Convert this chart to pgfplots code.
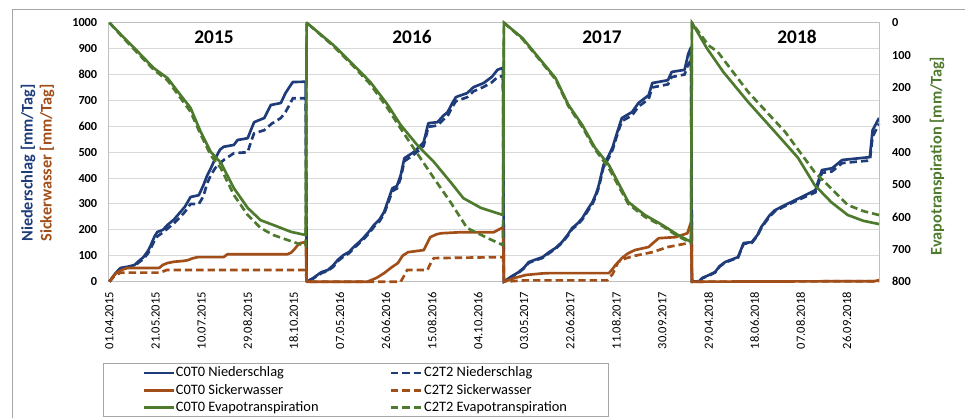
\documentclass[border=0pt]{standalone}
\usepackage{fontspec}
\setmainfont{Carlito}
\usepackage{pgfplots}
\pgfplotsset{compat=1.18}
\definecolor{nblue}{HTML}{1F3C7A}
\definecolor{sbrown}{HTML}{A24E18}
\definecolor{egreen}{HTML}{4E7A2E}
\definecolor{framegray}{HTML}{A6A6A6}
\definecolor{axisgray}{HTML}{BFBFBF}
\definecolor{gridgray}{HTML}{D9D9D9}
\begin{document}
\begin{tikzpicture}
\useasboundingbox (0,0) rectangle (723.75pt,313.5pt);
\draw[color=framegray, line width=0.75pt] (9pt,0pt) -- (9pt,306pt) -- (723.75pt,306pt);
\begin{axis}[
  at={(81.375pt,102.225pt)}, anchor=south west,
  scale only axis, width=578.6pt, height=194.25pt,
  xmin=-1, xmax=836, ymin=0, ymax=1000,
  clip=false,
  axis line style={draw=axisgray, line width=0.75pt},
  ymajorgrids, grid style={draw=gridgray, line width=0.75pt},
  major tick length=0pt,
  ytick={0,100,...,1000},
  xtick={0,50,...,800},
  xticklabels={01.04.2015,21.05.2015,10.07.2015,29.08.2015,18.10.2015,07.05.2016,26.06.2016,15.08.2016,04.10.2016,03.05.2017,22.06.2017,11.08.2017,30.09.2017,29.04.2018,18.06.2018,07.08.2018,26.09.2018},
  xticklabel style={rotate=90, anchor=east, inner sep=0pt, font=\fontsize{9.4}{10}\selectfont},
  xticklabel shift=7.5pt,
  yticklabel style={anchor=east, inner sep=0pt, font=\bfseries\fontsize{9.2}{10}\selectfont},
  yticklabel shift=8.3pt,
  /pgf/number format/assume math mode=true,
  /pgf/number format/1000 sep={},
]
% C0T0 Niederschlag
\addplot[nblue, line width=2pt, line join=round] coordinates {
(0,0) (6,30) (12,53) (20,58) (27,64) (32,80) (37,95) (42,120) (45,142) (49,175) (52,192) (58,200) (63,219) (70,240) (77,269) (82,290) (88,327) (97,334) (102,373) (106,410) (110,438) (115,477) (120,510) (124,521) (135,528) (139,547) (150,554) (154,590) (157,616) (168,632) (172,660) (175,682) (186,690) (191,728) (195,750) (199,771) (213,772)
(214,0) (221,14) (230,37) (237,45) (243,64) (248,85) (254,103) (260,115) (265,134) (270,150) (276,171) (282,195) (287,219) (293,240) (298,269) (303,320) (307,361) (312,370) (316,411) (320,477) (330,500) (336,520) (341,539) (346,612) (356,616) (362,640) (367,655) (372,690) (376,713) (388,728) (395,751) (406,767) (415,791) (421,818) (427,826)
(428,0) (436,20) (444,37) (450,55) (455,76) (462,85) (470,95) (477,114) (484,130) (491,153) (497,180) (502,207) (508,225) (513,245) (519,280) (524,307) (528,340) (531,373) (536,450) (542,489) (546,520) (549,555) (553,600) (556,632) (567,655) (574,690) (585,720) (589,767) (606,778) (610,810) (624,818) (628,880) (631,905)
(632,0) (640,2) (643,14) (650,25) (657,37) (662,60) (668,76) (682,95) (688,149) (697,153) (703,180) (707,210) (711,230) (716,255) (722,276) (733,296) (744,315) (755,334) (766,354) (773,431) (784,438) (795,470) (825,481) (828,585) (835,632)
};
% C2T2 Niederschlag
\addplot[nblue, line width=2pt, dash pattern=on 5.5pt off 3pt] coordinates {
(0,0) (6,28) (12,50) (20,55) (27,60) (32,75) (37,88) (42,110) (45,130) (49,160) (52,175) (58,190) (63,205) (70,225) (77,250) (82,270) (88,300) (97,300) (102,330) (106,380) (110,411) (115,440) (124,470) (135,496) (150,500) (154,545) (157,573) (168,585) (176,610) (186,632) (191,655) (195,680) (199,708) (213,708)
(214,0) (221,12) (230,33) (237,42) (243,58) (248,80) (254,97) (260,110) (265,128) (270,145) (276,165) (282,188) (287,212) (293,233) (298,262) (303,310) (307,350) (312,360) (316,400) (320,465) (330,490) (336,508) (341,525) (346,598) (356,603) (362,625) (367,640) (372,675) (376,697) (388,712) (395,735) (406,752) (415,770) (421,790) (427,795)
(428,0) (436,18) (444,35) (450,52) (455,73) (462,82) (470,92) (477,110) (484,127) (491,150) (497,176) (502,203) (508,220) (513,240) (519,273) (524,300) (528,332) (531,365) (536,442) (542,480) (546,510) (549,545) (553,590) (556,620) (567,642) (574,676) (585,705) (589,750) (606,762) (610,790) (624,800) (628,840) (631,855)
(632,0) (640,2) (643,13) (650,23) (657,35) (662,58) (668,74) (682,93) (688,146) (697,150) (703,177) (707,205) (711,226) (716,250) (722,272) (733,292) (744,310) (755,328) (766,345) (773,420) (784,426) (795,458) (825,468) (828,560) (835,610)
};
% C0T0 Sickerwasser
\addplot[sbrown, line width=2pt, line join=round] coordinates {
(0,0) (5,25) (9,37) (15,48) (20,53) (54,53) (58,65) (63,72) (70,77) (80,80) (85,83) (90,90) (96,95) (124,95) (128,106) (193,106) (197,112) (200,122) (204,140) (207,149) (213,153)
(214,0) (280,0) (290,15) (298,33) (306,55) (313,72) (318,100) (324,114) (341,122) (345,150) (348,172) (355,183) (360,187) (381,191) (417,191) (427,210)
(428,0) (440,15) (452,26) (470,32) (477,33) (542,33) (546,50) (549,64) (556,91) (562,108) (570,122) (585,134) (590,150) (596,168) (614,172) (627,187) (631,230)
(632,0) (830,2) (835,6)
};
% C2T2 Sickerwasser
\addplot[sbrown, line width=2pt, dash pattern=on 5.5pt off 3pt] coordinates {
(0,0) (5,20) (12,35) (55,35) (62,45) (213,45)
(214,0) (316,0) (320,25) (323,45) (345,45) (349,75) (352,91) (427,95)
(428,0) (450,5) (540,5) (546,30) (552,76) (560,90) (570,100) (589,114) (606,134) (628,149) (631,150)
(632,0) (835,2)
};
\end{axis}
\begin{axis}[
  at={(81.375pt,102.225pt)}, anchor=south west,
  scale only axis, width=578.6pt, height=194.25pt,
  xmin=-1, xmax=836, ymin=0, ymax=800,
  y dir=reverse, clip=false,
  axis x line=none, axis y line*=right,
  axis line style={draw=axisgray, line width=0.75pt},
  major tick length=0pt,
  ytick={0,100,...,800},
  yticklabel style={anchor=west, inner sep=0pt, font=\bfseries\fontsize{9.2}{10}\selectfont},
  yticklabel shift=9pt,
  /pgf/number format/assume math mode=true,
  /pgf/number format/1000 sep={},
  legend columns=2,
  legend style={at={(axis description cs:-0.0071,-0.3139)}, anchor=north west,
    draw=framegray, line width=0.75pt, fill=white,
    inner xsep=29pt, inner ysep=0.5pt, row sep=0pt, column sep=0pt,
    font=\fontsize{10.8}{12}\selectfont,
    nodes={inner sep=0pt, text height=9.5pt, text depth=3.5pt, anchor=west}},
  legend image code/.code={\draw[#1] (0pt,0pt) -- (22.5pt,0pt);},
]
% C0T0 Evapotranspiration
\addplot[egreen, line width=2pt, line join=round, forget plot] coordinates {
(0,0) (16,47) (31,90) (48,140) (63,171) (77,223) (88,263) (99,337) (110,399) (121,433) (135,511) (150,572) (164,610) (178,625) (197,646) (213,656)
(214,0) (243,69) (265,131) (283,183) (302,254) (316,316) (334,378) (352,430) (370,492) (384,542) (403,572) (427,594)
(428,0) (448,47) (466,109) (484,171) (498,254) (513,316) (527,387) (542,440) (563,554) (581,594) (600,625) (617,656) (631,677)
(632,0) (648,78) (666,152) (693,245) (722,337) (747,417) (765,501) (783,554) (801,594) (818,612) (835,622)
};
% C2T2 Evapotranspiration
\addplot[egreen, line width=2pt, dash pattern=on 5.5pt off 3pt, forget plot] coordinates {
(0,0) (16,50) (31,95) (48,145) (63,178) (77,232) (88,275) (99,345) (110,410) (121,450) (135,532) (150,594) (164,634) (178,656) (193,671) (213,690)
(214,0) (243,72) (265,135) (283,190) (302,265) (316,327) (330,387) (352,480) (370,554) (388,634) (410,665) (427,687)
(428,0) (448,50) (466,112) (484,175) (498,258) (513,322) (527,392) (542,450) (563,560) (581,600) (600,628) (617,660) (631,680)
(632,0) (650,70) (660,90) (693,214) (733,337) (765,461) (801,563) (818,582) (835,594)
};
\addlegendimage{nblue, line width=2pt}
\addlegendentry{\makebox[161pt][l]{\hspace{0.75pt}C0T0 Niederschlag}}
\addlegendimage{nblue, line width=2pt, dash pattern=on 5.5pt off 3pt}
\addlegendentry{\makebox[111pt][l]{\hspace{1.5pt}C2T2 Niederschlag}}
\addlegendimage{sbrown, line width=2pt}
\addlegendentry{\makebox[161pt][l]{\hspace{0.75pt}C0T0 Sickerwasser}}
\addlegendimage{sbrown, line width=2pt, dash pattern=on 5.5pt off 3pt}
\addlegendentry{\makebox[111pt][l]{\hspace{1.5pt}C2T2 Sickerwasser}}
\addlegendimage{egreen, line width=2pt}
\addlegendentry{\makebox[161pt][l]{\hspace{0.75pt}C0T0 Evapotranspiration}}
\addlegendimage{egreen, line width=2pt, dash pattern=on 5.5pt off 3pt}
\addlegendentry{\makebox[111pt][l]{\hspace{1.5pt}C2T2 Evapotranspiration}}
\end{axis}
% axis titles and year labels
\begin{scope}[x=0.75pt,y=0.75pt]
\node[rotate=90, text=nblue, font=\bfseries\fontsize{12.2}{14}\selectfont] at (28,255) {Niederschlag [mm/Tag]};
\node[rotate=90, text=sbrown, font=\bfseries\fontsize{12.2}{14}\selectfont] at (47,255) {Sickerwasser [mm/Tag]};
\node[rotate=90, text=egreen, font=\bfseries\fontsize{12.2}{14}\selectfont] at (937,262) {Evapotranspiration [mm/Tag]};
\node[font=\bfseries\fontsize{14.5}{16}\selectfont] at (214,381) {2015};
\node[font=\bfseries\fontsize{14.5}{16}\selectfont] at (412,381) {2016};
\node[font=\bfseries\fontsize{14.5}{16}\selectfont] at (602,381) {2017};
\node[font=\bfseries\fontsize{14.5}{16}\selectfont] at (797,381) {2018};
\end{scope}
\end{tikzpicture}
\end{document}
